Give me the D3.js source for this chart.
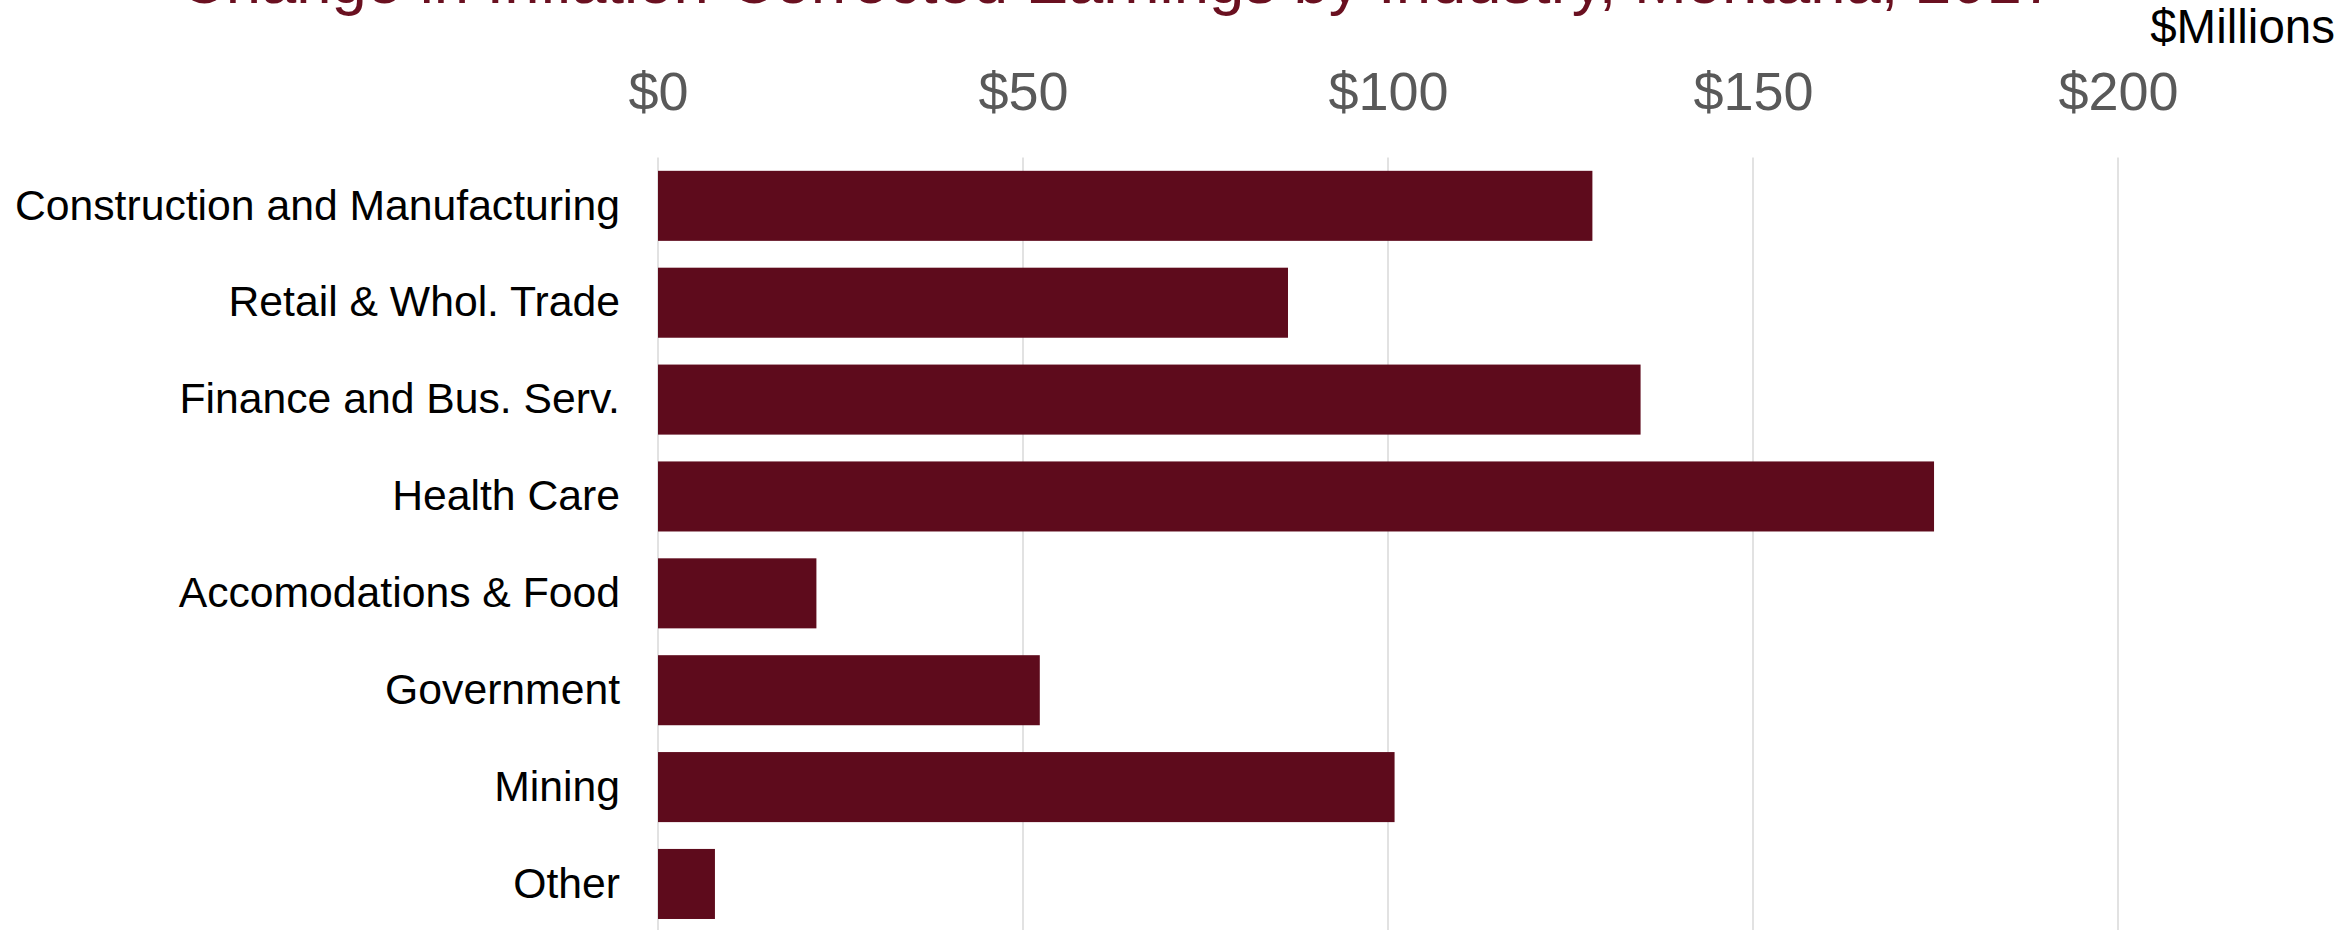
<!DOCTYPE html>
<html>
<head>
<meta charset="utf-8">
<script src="https://cdn.jsdelivr.net/npm/d3@7"></script>
<style>
  html, body { margin: 0; padding: 0; background: #ffffff; }
  svg { display: block; }
  text { font-family: "Liberation Sans", Arial, sans-serif; }
</style>
</head>
<body>
<svg id="chart" width="2349" height="930"></svg>
<script>
// Change in earnings by industry, $ millions
const categories = [
  "Construction and Manufacturing",
  "Retail & Whol. Trade",
  "Finance and Bus. Serv.",
  "Health Care",
  "Accomodations & Food",
  "Government",
  "Mining",
  "Other"
];
const values = [128.0, 86.3, 134.6, 174.8, 21.7, 52.3, 100.9, 7.8];
const tickValues = [0, 50, 100, 150, 200];
const titleText = "Change in Inflation-Corrected Earnings by Industry, Montana, 2017";
const unitLabel = "$Millions";

const svg = d3.select("#chart");

const x = d3.scaleLinear().domain([0, 200]).range([658, 2118]);
const y = d3.scaleBand()
  .domain(categories)
  .range([157.4, 932.4])
  .paddingInner(0.277)
  .paddingOuter(0.1385);

// Title (sits at the very top edge)
svg.append("text")
  .attr("x", 180)
  .attr("y", 3)
  .attr("fill", "#6a1020")
  .style("font-size", "63.4px")
  .text(titleText);

// Units label
svg.append("text")
  .attr("x", 2335)
  .attr("y", 43)
  .attr("text-anchor", "end")
  .attr("fill", "#000000")
  .style("font-size", "47.5px")
  .text(unitLabel);

// Vertical gridlines
svg.append("g")
  .selectAll("line")
  .data(tickValues)
  .join("line")
  .attr("x1", d => x(d))
  .attr("x2", d => x(d))
  .attr("y1", y.range()[0])
  .attr("y2", y.range()[1])
  .attr("stroke", "#d9d9d9")
  .attr("stroke-width", 1.5);

// Top axis labels
const xAxis = d3.axisTop(x)
  .tickValues(tickValues)
  .tickSize(0)
  .tickPadding(0)
  .tickFormat(d => "$" + d);

svg.append("g")
  .attr("transform", "translate(0,110)")
  .call(xAxis)
  .call(g => g.select(".domain").remove())
  .call(g => g.selectAll("text")
    .attr("y", 0)
    .attr("dy", 0)
    .attr("fill", "#595959")
    .style("font-family", "'Liberation Sans', Arial, sans-serif")
    .style("font-size", "54px"));

// Bars
svg.append("g")
  .selectAll("rect")
  .data(categories.map((c, i) => ({ c, v: values[i] })))
  .join("rect")
  .attr("x", x(0))
  .attr("y", d => y(d.c))
  .attr("width", d => x(d.v) - x(0))
  .attr("height", y.bandwidth())
  .attr("fill", "#5e0b1c");

// Category labels
const yAxis = d3.axisLeft(y).tickSize(0).tickPadding(0);
svg.append("g")
  .attr("transform", "translate(620,0)")
  .call(yAxis)
  .call(g => g.select(".domain").remove())
  .call(g => g.selectAll("text")
    .attr("fill", "#000000")
    .style("font-family", "'Liberation Sans', Arial, sans-serif")
    .style("font-size", "42.7px"));
</script>
</body>
</html>
